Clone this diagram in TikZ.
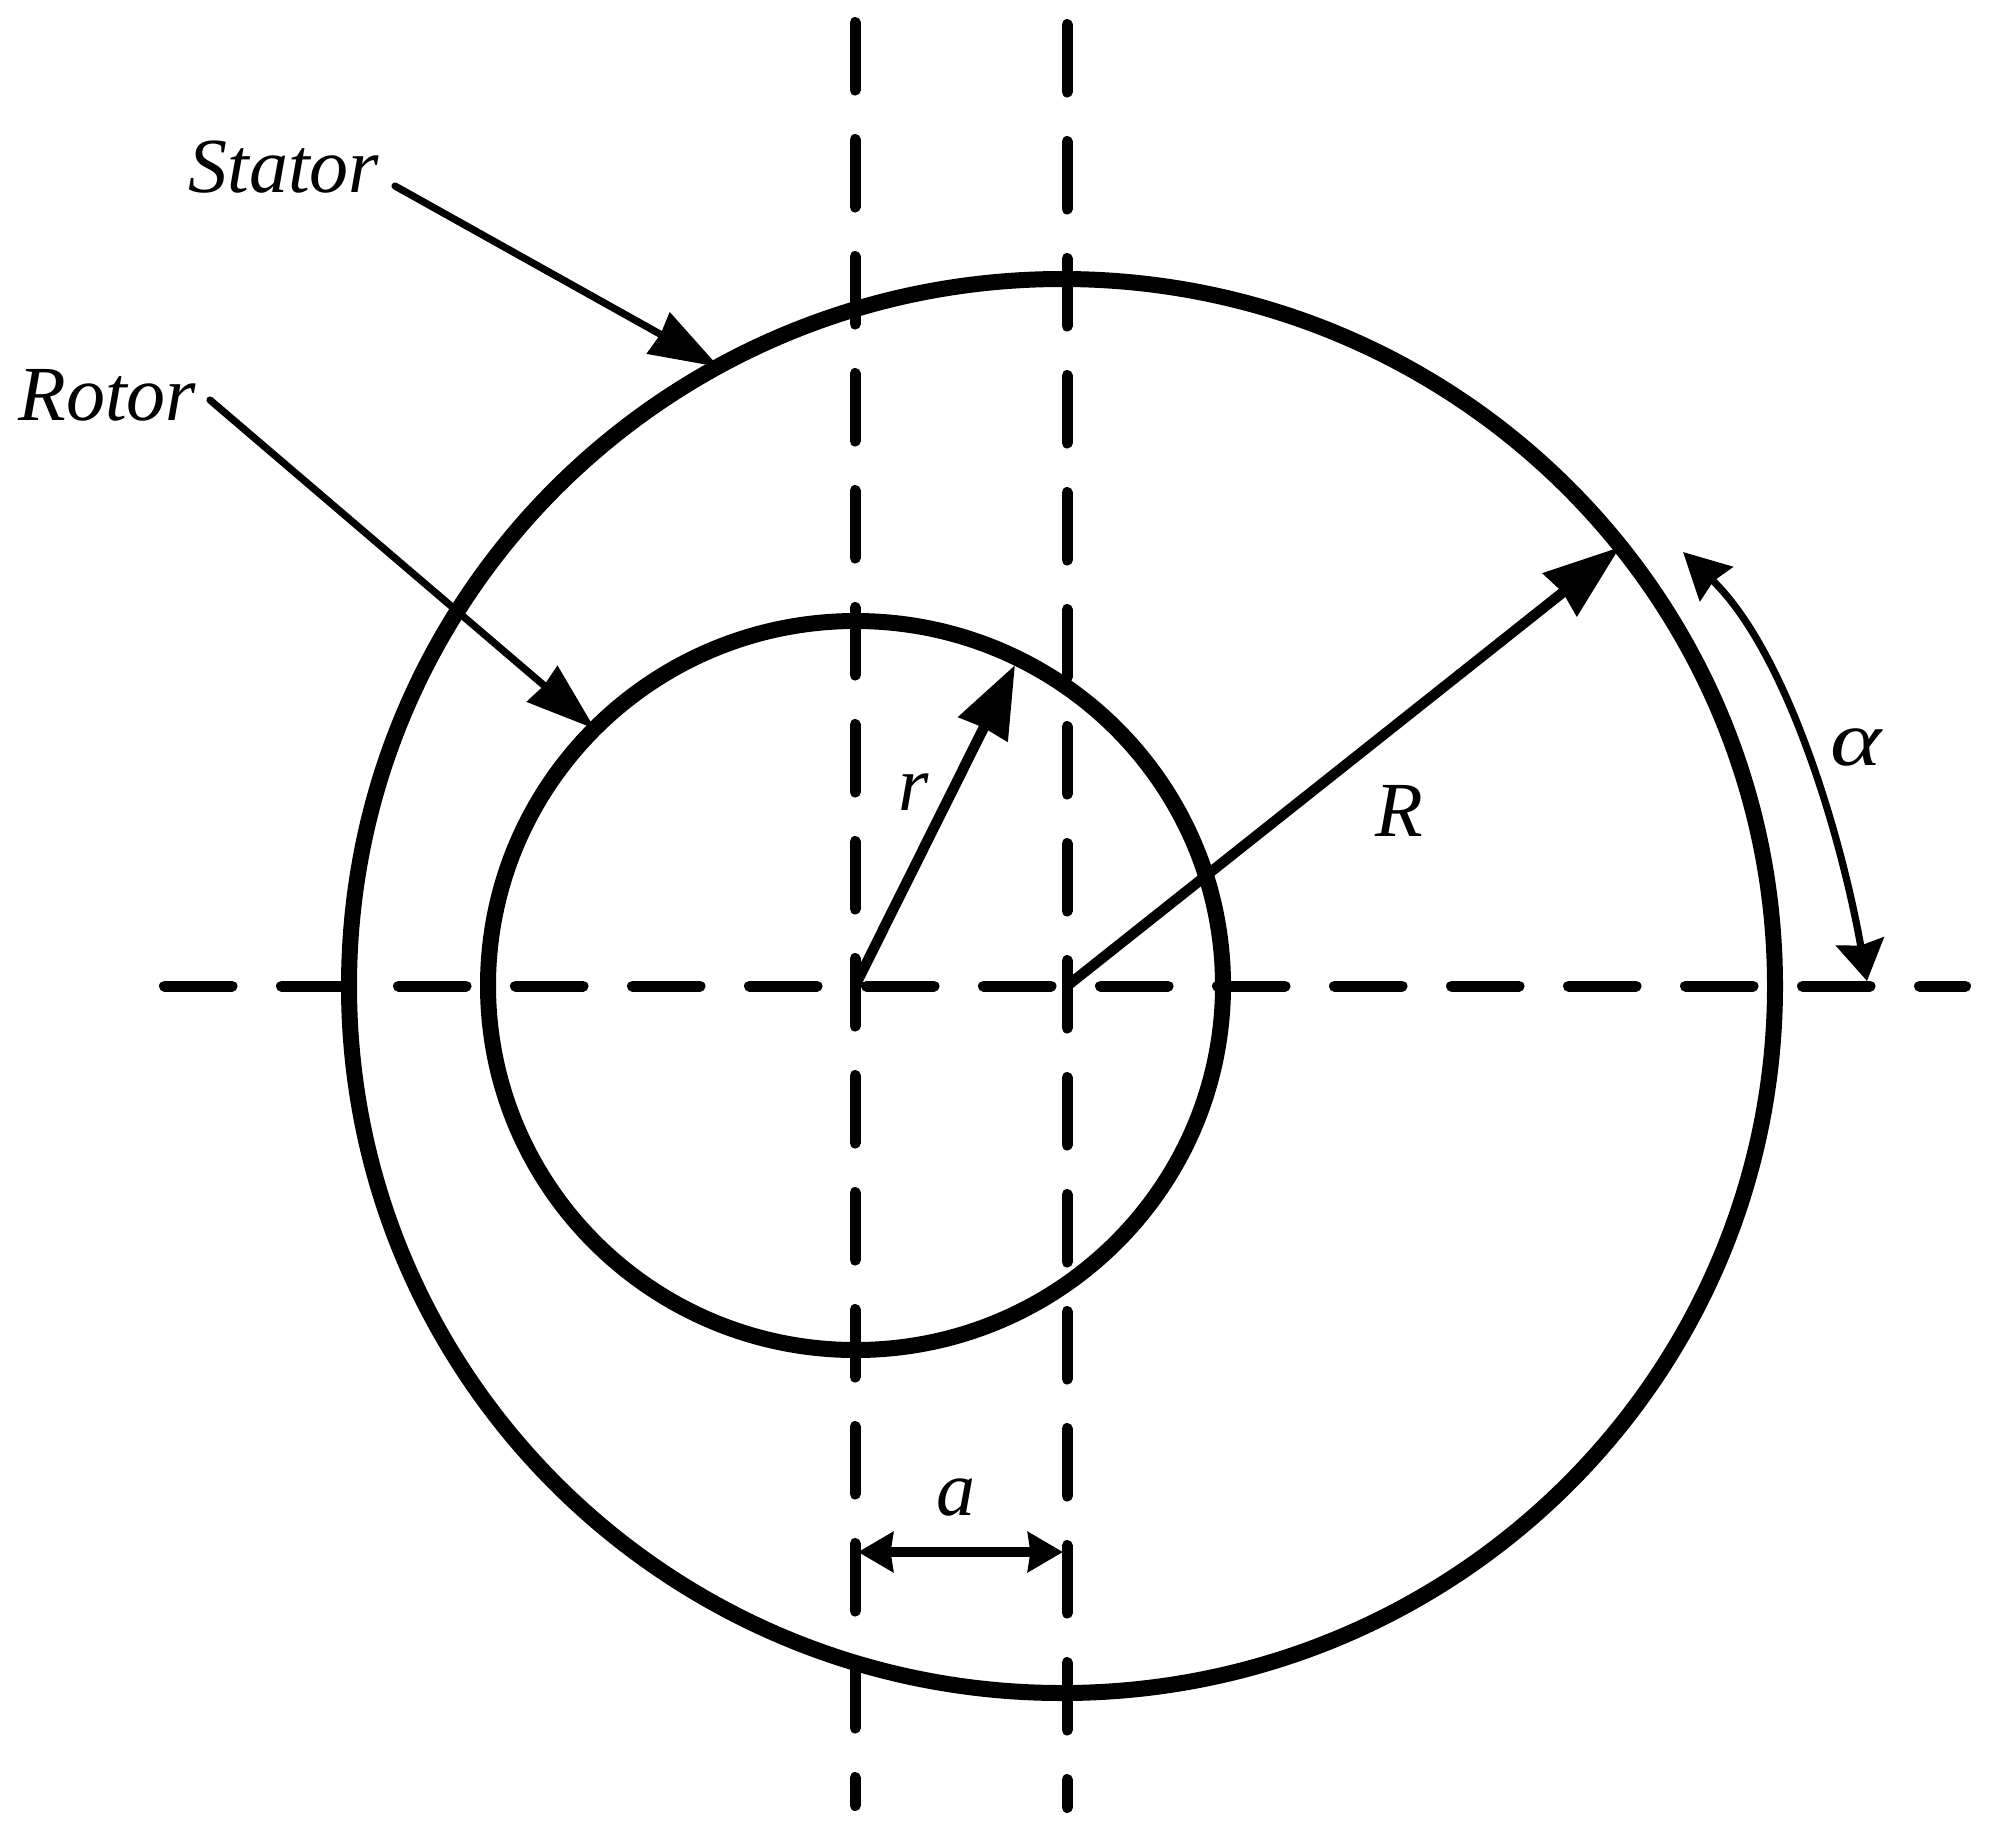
\documentclass[tikz,border=0pt]{standalone}
\usepackage{fontspec}
\usepackage{graphicx}
\setmainfont{Liberation Serif}
\usetikzlibrary{arrows.meta}
\begin{document}
\begin{tikzpicture}[x=0.5pt,y=-0.5pt,
  dashline/.style={line width=5.5pt,line cap=round,dash pattern=on 33.75pt off 24.75pt},
  ring/.style={line width=8pt},
  bigshaft/.style={line width=5.2pt},
  thinshaft/.style={line width=3.6pt},
  lbl/.style={inner sep=0pt,anchor=base west,font=\fontsize{39}{39}\selectfont\itshape}]
\useasboundingbox (0,0) rectangle (2000,1837);
\coordinate (CL) at (855,986);
\coordinate (CR) at (1067,986);
\coordinate (vlt) at (855,22.5); \coordinate (vlb) at (855,1805.5);
\coordinate (vrt) at (1067,24.5); \coordinate (vrb) at (1067,1807.5);
\coordinate (hl) at (164.5,986); \coordinate (hr) at (1965.5,986);
\draw[dashline] (vlt)--(vlb);
\draw[dashline] (vrt)--(vrb);
\draw[dashline] (hl)--(hr);
\draw[ring] (1062,986) ellipse [x radius=713,y radius=707];
\draw[ring] (855.5,985.5) ellipse [x radius=367.5,y radius=364.5];
\coordinate (Rtip) at (1620,547);
\coordinate (rtip) at (1015,665);
\draw[bigshaft,-{Stealth[length=38pt,width=26.5pt,inset=1.5pt]}] (CR)--(Rtip);
\draw[bigshaft,-{Stealth[length=35.5pt,width=26.5pt,inset=0.5pt]}] (CL)--(rtip);
\coordinate (stS) at (395,186); \coordinate (stT) at (719,367);
\coordinate (roS) at (210,400); \coordinate (roT) at (595,729);
\draw[thinshaft,line cap=round,-{Stealth[length=34.5pt,width=23pt,inset=1pt]}] (stS)--(stT);
\draw[thinshaft,line cap=round,-{Stealth[length=34.5pt,width=23pt,inset=1pt]}] (roS)--(roT);
\coordinate (alT) at (1683,552); \coordinate (alB) at (1867,981);
\draw[thinshaft,{Stealth[length=23pt,width=23.5pt,inset=2pt]}-{Stealth[length=20pt,width=24pt,inset=2pt]}] (alT) .. controls (1785,650) and (1840,830) .. (alB);
\coordinate (aL) at (858,1552); \coordinate (aR) at (1063,1552);
\draw[line width=5pt,{Stealth[length=17.5pt,width=19.7pt,inset=1.2pt]}-{Stealth[length=17.5pt,width=19.7pt,inset=1.2pt]}] (aL)--(aR);
\node[lbl] (stator) at (188,192) {Stator};
\node[lbl] (rotor) at (18,420) {Rotor};
\node[lbl] (rr) at (898,810) {r};
\node[lbl] (RR) at (1375,836) {R};
\node[lbl] (aa) at (936,1515) {a};
\node[lbl] (alpha) at (1830,765) {\scalebox{1.25}[1]{α}};
\end{tikzpicture}
\end{document}
